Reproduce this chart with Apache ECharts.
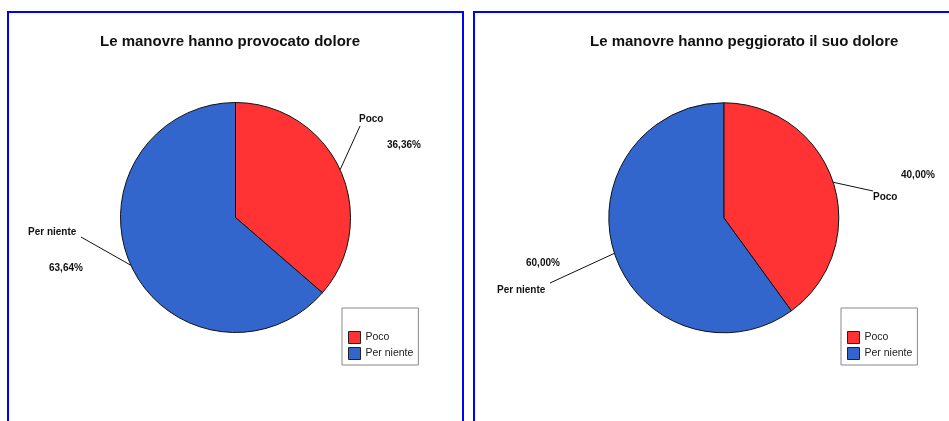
<!DOCTYPE html>
<html>
<head>
<meta charset="utf-8">
<script src="https://cdn.jsdelivr.net/npm/echarts@6/dist/echarts.min.js"></script>
<style>
  html, body { margin: 0; padding: 0; background: #ffffff; }
  #chart { width: 949px; height: 421px; }
</style>
</head>
<body>
<div id="chart"></div>
<script>
// Answer categories and percentages for the two questions
const categories = ['Poco', 'Per niente'];
const doloreValues = [36.36, 63.64];       // "Le manovre hanno provocato dolore"
const peggioratoValues = [40.00, 60.00];   // "Le manovre hanno peggiorato il suo dolore"
const chartTitles = [
  'Le manovre hanno provocato dolore',
  'Le manovre hanno peggiorato il suo dolore'
];

const sliceColors = ['#ff3333', '#3366cc'];
const FONT = '"Liberation Sans", Arial, Helvetica, sans-serif';

// Italian-style percentage text: 36,36%
function pct(v) { return v.toFixed(2).replace('.', ',') + '%'; }

// Where each outside label sits, per series / per slice
const labelPlacement = [
  [
    { x: 359, y: 106.75, lh: 25.5, indent: 28, pctFirst: false, end: [360, 126] },
    { x: 28,  y: 214.5,  lh: 36,   indent: 21, pctFirst: false, end: [81, 237] }
  ],
  [
    { x: 873, y: 163.75, lh: 22.5, indent: 28, pctFirst: true, end: [873, 191] },
    { x: 497, y: 250,    lh: 27,   indent: 29, pctFirst: true, end: [550, 283] }
  ]
];

const pieCenters = [[235.5, 217.5], [723.8, 217.8]];
const legendLefts = [342, 841];
const titleLefts = [100, 590];

function buildData(values, sIdx) {
  return categories.map(function (name, i) {
    const pl = labelPlacement[sIdx][i];
    const base = { fontFamily: FONT, fontSize: 10, fontWeight: 'bold', color: '#111', lineHeight: pl.lh };
    return {
      name: name,
      value: values[i],
      itemStyle: { color: sliceColors[i] },
      label: {
        rich: {
          n: Object.assign({}, base),
          p: Object.assign({}, base, { padding: [0, 0, 0, pl.indent] })
        }
      }
    };
  });
}

function makeSeries(values, sIdx) {
  return {
    type: 'pie',
    name: chartTitles[sIdx],
    center: pieCenters[sIdx],
    radius: 115,
    startAngle: 90,
    clockwise: true,
    avoidLabelOverlap: false,
    animation: false,
    emphasis: { disabled: true },
    itemStyle: { borderColor: '#111', borderWidth: 1 },
    label: {
      show: true,
      position: 'outside',
      formatter: function (p) {
        const pl = labelPlacement[p.seriesIndex][p.dataIndex];
        return pl.pctFirst
          ? '{p|' + pct(p.value) + '}\n{n|' + p.name + '}'
          : '{n|' + p.name + '}\n{p|' + pct(p.value) + '}';
      }
    },
    labelLine: {
      show: true,
      length: 20,
      length2: 10,
      smooth: false,
      lineStyle: { color: '#111', width: 1 }
    },
    labelLayout: function (params) {
      const pl = labelPlacement[params.seriesIndex][params.dataIndex];
      const out = { x: pl.x, y: pl.y, align: 'left', verticalAlign: 'top' };
      if (params.labelLinePoints && params.labelLinePoints.length) {
        out.labelLinePoints = [params.labelLinePoints[0], pl.end];
      }
      return out;
    },
    data: buildData(values, sIdx)
  };
}

const chart = echarts.init(document.getElementById('chart'), null, { renderer: 'canvas' });

chart.setOption({
  backgroundColor: '#ffffff',
  animation: false,
  graphic: [
    { type: 'rect', silent: true, shape: { x: 8, y: 12, width: 455, height: 440 },
      style: { fill: null, stroke: '#0000ff', lineWidth: 2 } },
    { type: 'rect', silent: true, shape: { x: 474, y: 12, width: 520, height: 440 },
      style: { fill: null, stroke: '#0000ff', lineWidth: 2 } }
  ],
  title: chartTitles.map(function (t, k) {
    return {
      text: t,
      left: titleLefts[k],
      top: 34,
      padding: 0,
      textStyle: { fontFamily: FONT, fontSize: 15, fontWeight: 'bold', color: '#111' }
    };
  }),
  legend: [0, 1].map(function (k) {
    return {
      data: categories,
      left: legendLefts[k],
      top: 308,
      orient: 'vertical',
      padding: [23, 5, 5, 6],
      itemWidth: 12,
      itemHeight: 12,
      itemGap: 3,
      icon: 'rect',
      borderColor: '#888888',
      borderWidth: 1,
      selectedMode: false,
      itemStyle: { borderColor: '#222', borderWidth: 1 },
      textStyle: { fontFamily: FONT, fontSize: 10.5, color: '#222' }
    };
  }),
  series: [makeSeries(doloreValues, 0), makeSeries(peggioratoValues, 1)]
});
</script>
</body>
</html>
